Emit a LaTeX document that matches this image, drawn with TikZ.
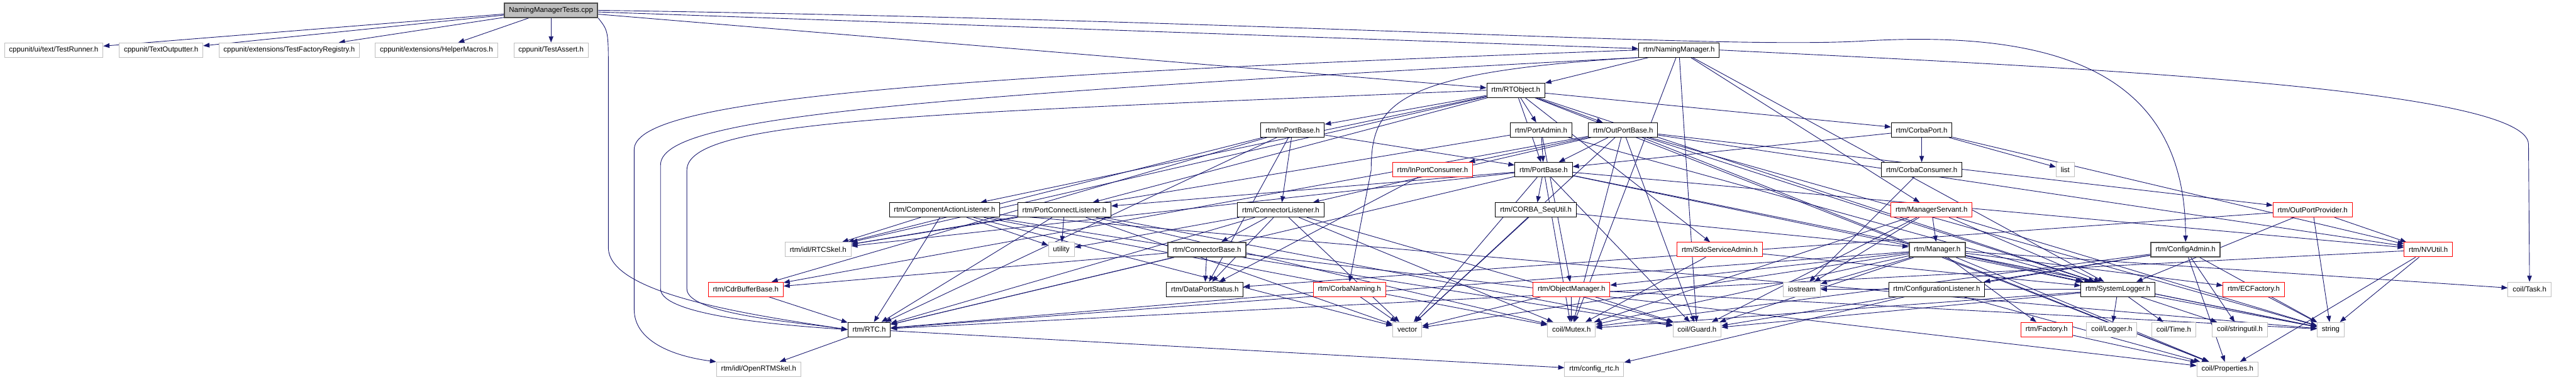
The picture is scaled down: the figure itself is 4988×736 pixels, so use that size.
\documentclass[tikz,border=0pt]{standalone}
\usepackage{fontspec}
\setmainfont{Liberation Sans}
\usetikzlibrary{arrows.meta,backgrounds}
\definecolor{midnight}{HTML}{191970}
\definecolor{lightframe}{HTML}{BFBFBF}
\tikzset{
  file/.style={draw=black,fill=white,line width=1.2pt,minimum height=28pt,inner xsep=9pt,inner ysep=0pt,font=\fontsize{14}{16}\selectfont},
  sys/.style={file,draw=lightframe},
  nodoc/.style={file,draw=red},
  hub/.style={file,draw=black!70,line width=2.2pt},
  root/.style={file,fill=lightframe,draw=black!70,line width=2.2pt},
  inc/.style={midnight,line width=1.1pt,-{Triangle[length=12pt,width=9pt]}}
}

\begin{document}
\begin{tikzpicture}[x=1pt,y=-1pt]
\useasboundingbox (0,0) rectangle (4988,736);
% row 0 and 1
\node[root] (tests) at (1067,20) {NamingManagerTests.cpp};
\node[sys] (runner) at (104,97) {cppunit/ui/text/TestRunner.h};
\node[sys] (outputter) at (312,97) {cppunit/TextOutputter.h};
\node[sys] (registry) at (560,97) {cppunit/extensions/TestFactoryRegistry.h};
\node[sys] (macros) at (845,97) {cppunit/extensions/HelperMacros.h};
\node[sys] (assert) at (1067,97) {cppunit/TestAssert.h};
\node[file] (naming) at (3251,97) {rtm/NamingManager.h};
% rows 2 to 4
\node[file] (rtobj) at (2935,175) {rtm/RTObject.h};
\node[file] (inbase) at (2503,252) {rtm/InPortBase.h};
\node[file] (padmin) at (2984,252) {rtm/PortAdmin.h};
\node[file] (outbase) at (3143,252) {rtm/OutPortBase.h};
\node[file] (cport) at (3721,252) {rtm/CorbaPort.h};
\node[nodoc] (incons) at (2774,329) {rtm/InPortConsumer.h};
\node[file] (pbase) at (2989,329) {rtm/PortBase.h};
\node[file] (cconsumer) at (3721,329) {rtm/CorbaConsumer.h};
\node[sys] (list) at (3999,329) {list};
% rows 5 and 6
\node[file] (calist) at (1829,407) {rtm/ComponentActionListener.h};
\node[file] (pclist) at (2061,407) {rtm/PortConnectListener.h};
\node[file] (clistener) at (2480,407) {rtm/ConnectorListener.h};
\node[file] (sequtil) at (2974,407) {rtm/CORBA\_SeqUtil.h};
\node[nodoc] (mservant) at (3740,407) {rtm/ManagerServant.h};
\node[nodoc] (oprovider) at (4478,407) {rtm/OutPortProvider.h};
\node[sys] (rtcskel) at (1584,484) {rtm/idl/RTCSkel.h};
\node[sys] (utility) at (2055,484) {utility};
\node[hub] (cbase) at (2337,484) {rtm/ConnectorBase.h};
\node[nodoc] (sdoadmin) at (3330,484) {rtm/SdoServiceAdmin.h};
\node[hub] (manager) at (3751,484) {rtm/Manager.h};
\node[hub] (cadmin) at (4232,484) {rtm/ConfigAdmin.h};
\node[nodoc] (nvutil) at (4702,484) {rtm/NVUtil.h};
% row 7
\node[nodoc] (cdrbuf) at (1444,561) {rtm/CdrBufferBase.h};
\node[file] (dpstatus) at (2333,561) {rtm/DataPortStatus.h};
\node[nodoc] (cnaming) at (2613,561) {rtm/CorbaNaming.h};
\node[nodoc] (objmgr) at (3043,561) {rtm/ObjectManager.h};
\node[sys] (iostream) at (3489,561) {iostream};
\node[file] (cfglistener) at (3750,561) {rtm/ConfigurationListener.h};
\node[file] (syslogger) at (4101,561) {rtm/SystemLogger.h};
\node[nodoc] (ecfactory) at (4364,561) {rtm/ECFactory.h};
\node[sys] (task) at (4898,561) {coil/Task.h};
% rows 8 and 9
\node[file] (rtc) at (1683,639) {rtm/RTC.h};
\node[sys] (vector) at (2725,639) {vector};
\node[sys] (mutex) at (3043,639) {coil/Mutex.h};
\node[sys] (guard) at (3286,639) {coil/Guard.h};
\node[nodoc] (factory) at (3963,639) {rtm/Factory.h};
\node[sys] (logger) at (4089,639) {coil/Logger.h};
\node[sys] (time) at (4209,639) {coil/Time.h};
\node[sys] (stringutil) at (4337,639) {coil/stringutil.h};
\node[sys] (string) at (4513,639) {string};
\node[sys] (openrtm) at (1469,716) {rtm/idl/OpenRTMSkel.h};
\node[sys] (configrtc) at (3087,716) {rtm/config\_rtc.h};
\node[sys] (props) at (4313,716) {coil/Properties.h};

\begin{scope}[on background layer]
% long routed edges
\draw[inc] (tests.south east) .. controls (1178,60) .. (1178,140) -- (1178,480)
  .. controls (1178,570) and (1450,610) .. (rtc.west);
\draw[inc] (naming.west) .. controls (1700,150) and (1228,200) .. (1228,290) -- (1228,600)
  .. controls (1228,660) and (1300,690) .. (openrtm.north west);
\draw[inc] (naming.south west) .. controls (1700,190) and (1279,230) .. (1279,320) -- (1279,560)
  .. controls (1279,610) and (1500,630) .. (rtc.west);
\draw[inc] (rtobj.west) .. controls (1800,220) and (1330,230) .. (1330,330) -- (1330,560)
  .. controls (1330,610) and (1550,625) .. (rtc.west);
\draw[inc] (tests.east) .. controls (2500,40) and (3300,95) .. (3600,80)
  .. controls (4000,55) and (4232,150) .. (cadmin.north);
\draw[inc] (naming.east) .. controls (4000,130) and (4896,170) .. (4896,280) -- (task.north);
\draw[inc] (naming.south west) .. controls (2700,140) and (2655,200) .. (2655,330) -- (cnaming.north);
% straight edges
\foreach \t in {runner,outputter,registry,macros,assert,naming,rtobj}
  \draw[inc] (tests) -- (\t);
\foreach \t in {rtobj,mutex,guard,syslogger,mservant}
  \draw[inc] (naming) -- (\t);
\foreach \t in {rtcskel,calist,pclist,inbase,padmin,outbase,pbase,cport,sdoadmin,syslogger,props}
  \draw[inc] (rtobj) -- (\t);
\foreach \t in {pbase,clistener,cdrbuf,dpstatus,rtcskel,rtc}
  \draw[inc] (inbase) -- (\t);
\foreach \t in {pbase,objmgr,rtcskel,syslogger}
  \draw[inc] (padmin) -- (\t);
\foreach \t in {incons,pbase,clistener,oprovider,nvutil,cdrbuf,syslogger,mutex,guard,vector,string,props}
  \draw[inc] (outbase) -- (\t);
\foreach \t in {pbase,cconsumer,list,nvutil}
  \draw[inc] (cport) -- (\t);
\draw[inc] (cconsumer) -- (iostream);
\draw[inc] (incons) -- (dpstatus);
\foreach \t in {rtc,rtcskel,sequtil,pclist,mutex,guard,vector,nvutil,syslogger,string}
  \draw[inc] (pbase) -- (\t);
\foreach \t in {rtcskel,rtc,utility,vector,mutex,guard,string}
  \draw[inc] (calist) -- (\t);
\foreach \t in {rtcskel,rtc,utility,vector,mutex,guard}
  \draw[inc] (pclist) -- (\t);
\foreach \t in {rtc,utility,cbase,dpstatus,vector,mutex,guard}
  \draw[inc] (clistener) -- (\t);
\foreach \t in {manager,vector}
  \draw[inc] (sequtil) -- (\t);
\foreach \t in {manager,iostream,syslogger,mutex,guard,string}
  \draw[inc] (mservant) -- (\t);
\foreach \t in {nvutil,syslogger,string,dpstatus}
  \draw[inc] (oprovider) -- (\t);
\foreach \t in {cdrbuf,dpstatus,rtc,props}
  \draw[inc] (cbase) -- (\t);
\foreach \t in {mutex,syslogger}
  \draw[inc] (sdoadmin) -- (\t);
\foreach \t in {objmgr,iostream,syslogger,ecfactory,factory,task,props,string,mutex,guard,vector,rtc}
  \draw[inc] (manager) -- (\t);
\foreach \t in {cfglistener,stringutil,string,props,guard,mutex}
  \draw[inc] (cadmin) -- (\t);
\foreach \t in {props,configrtc}
  \draw[inc] (cfglistener) -- (\t);
\foreach \t in {string,props,rtc}
  \draw[inc] (nvutil) -- (\t);
\draw[inc] (cdrbuf) -- (rtc);
\foreach \t in {vector,rtc}
  \draw[inc] (cnaming) -- (\t);
\foreach \t in {vector,mutex,guard,string}
  \draw[inc] (objmgr) -- (\t);
\foreach \t in {logger,time,stringutil,string,mutex,guard,iostream}
  \draw[inc] (syslogger) -- (\t);
\draw[inc] (ecfactory) -- (string);
\draw[inc] (factory) -- (props);
\foreach \t in {openrtm,configrtc}
  \draw[inc] (rtc) -- (\t);
\end{scope}
\end{tikzpicture}
\end{document}
